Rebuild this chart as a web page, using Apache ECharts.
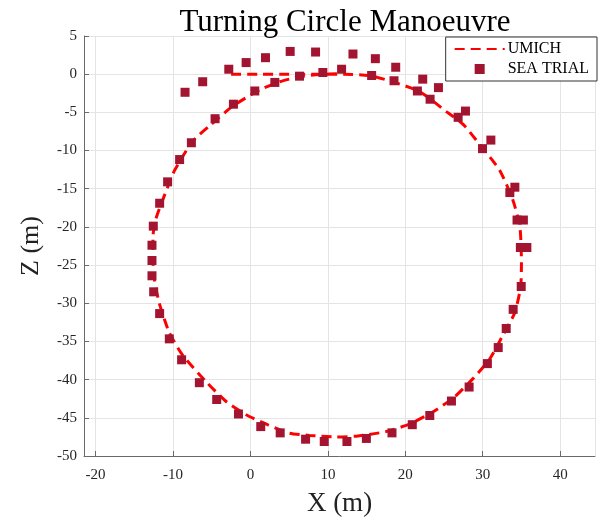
<!DOCTYPE html>
<html>
<head>
<meta charset="utf-8">
<script src="https://cdn.jsdelivr.net/npm/echarts@6/dist/echarts.min.js"></script>
<style>
html,body{margin:0;padding:0;background:#fff;}
#chart{width:602px;height:522px;}
</style>
</head>
<body>
<div id="chart"></div>
<script>
// UMICH simulated trajectory
const umichX = [-2.5, 1, 5, 9, 12, 15.4, 18.4, 21.9, 25.3, 27.5, 29.6, 32.2, 33.9, 34.8, 35.0, 34.9, 34.15, 32.6, 30.9, 28.8, 26.2, 23.6, 20.6, 17.55, 13.7, 11.1, 7.6, 5.0, 2.2, -0.56, -3.1, -5.7, -8.76, -10.5, -11.8, -12.4, -12.6, -12.6, -12.2, -10.7, -9.8, -7.45, -5.1, -2.3, 1.16, 3.75, 6.3, 8.9, 11.5];
const umichZ = [0, 0, 0, 0, 0, -0.2, -1.0, -2.3, -4.9, -6.6, -9.2, -12.6, -16.5, -20, -24.7, -27.8, -31.2, -34.2, -37.3, -39.8, -42.4, -44.2, -45.8, -46.8, -47.4, -47.5, -47.3, -47.0, -45.9, -44.6, -42.9, -40.3, -36.8, -33.8, -29.9, -26.9, -24.3, -21.3, -18.9, -14.8, -12.6, -8.76, -6.6, -4.2, -2.07, -1.0, -0.34, -0.04, 0.05];

// Sea trial measurements
const trialX = [-8.45, -6.17, -2.8, -0.56, 1.94, 5.13, 8.41, 13.24, 16.13, 18.76, 22.25, 24.28, 27.77, 31.05, 34.15, 35.25, 35.7,
  -4.57, -2.2, 0.56, 3.15, 6.34, 9.35, 11.77, 15.65, 18.54, 21.56, 23.2, 26.82, 29.97, 33.5, 34.43, 34.86, 34.97, 33.93, 33.03, 32.0, 30.6, 28.24, 25.96, 23.16, 20.9, 18.28, 14.97, 12.46, 9.53, 7.12, 3.84, 1.33, -1.55, -4.36, -6.6, -8.89, -10.48, -11.73, -12.5, -12.72, -12.72, -12.72, -12.55, -11.73, -10.7, -9.15, -7.63];
const trialZ = [-2.37, -0.99, 0.65, 1.52, 2.16, 2.98, 2.9, 2.64, 2.03, 0.91, -0.65, -1.76, -4.83, -8.63, -14.8, -19.1, -22.7,
  -5.83, -3.93, -2.2, -1.08, -0.26, 0.22, 0.65, -0.17, -0.86, -2.2, -3.28, -5.65, -9.75, -15.5, -19.1, -22.7, -27.8, -30.8, -33.3, -35.8, -37.9, -40.97, -42.8, -44.7, -45.9, -46.97, -47.7, -48.1, -48.1, -47.8, -46.97, -46.15, -44.5, -42.6, -40.4, -37.4, -34.66, -31.35, -28.5, -26.4, -24.4, -22.4, -19.9, -16.9, -14.1, -11.18, -8.98];

const titleText = 'Turning Circle Manoeuvre';
const xName = 'X (m)';
const yName = 'Z (m)';
const seriesNames = ['UMICH', 'SEA TRIAL'];

const serif = 'Liberation Serif, DejaVu Serif, serif';
const umichData = umichX.map((x, i) => [x, umichZ[i]]);
const trialData = trialX.map((x, i) => [x, trialZ[i]]);

const chart = echarts.init(document.getElementById('chart'), null, {renderer: 'canvas'});
chart.setOption({
  animation: false,
  backgroundColor: '#fff',
  title: {
    text: titleText,
    left: 340,
    top: 2,
    textAlign: 'center',
    textStyle: {fontFamily: serif, fontWeight: 'normal', fontSize: 31, color: '#000'}
  },
  grid: {left: 84, right: 7, top: 36, bottom: 61, containLabel: false},
  legend: {
    orient: 'vertical',
    right: 5,
    top: 37,
    padding: [4, 8, 4, 8],
    itemGap: 4,
    itemWidth: 50,
    itemHeight: 10,
    backgroundColor: '#fff',
    borderColor: '#333',
    borderWidth: 1,
    borderRadius: 0,
    textStyle: {fontFamily: serif, fontSize: 16, color: '#000', padding: [0, 0, 0, -2]},
    data: [
      {name: seriesNames[0], itemStyle: {opacity: 0}},
      {name: seriesNames[1], icon: 'path://M0,0L1,0L1,1L0,1Z'}
    ]
  },
  xAxis: {
    type: 'value',
    min: -21.5,
    max: 44.5,
    splitNumber: 7,
    name: xName,
    nameLocation: 'middle',
    nameGap: 34,
    nameTextStyle: {fontFamily: serif, fontSize: 27, color: '#222'},
    axisLine: {show: true, onZero: false, lineStyle: {color: '#6a6a6a', width: 1}},
    axisTick: {show: true, inside: true, length: 5, lineStyle: {color: '#6a6a6a'}},
    axisLabel: {fontFamily: serif, fontSize: 15, color: '#262626', margin: 12, showMinLabel: false, showMaxLabel: false},
    splitLine: {show: true, lineStyle: {color: '#e4e4e4', width: 1}}
  },
  yAxis: {
    type: 'value',
    min: -50,
    max: 5,
    interval: 5,
    name: yName,
    nameLocation: 'middle',
    nameGap: 40,
    nameRotate: 90,
    nameTextStyle: {fontFamily: serif, fontSize: 26, color: '#222'},
    axisLine: {show: true, onZero: false, lineStyle: {color: '#6a6a6a', width: 1}},
    axisTick: {show: true, inside: true, length: 5, lineStyle: {color: '#6a6a6a'}},
    axisLabel: {fontFamily: serif, fontSize: 15, color: '#262626', margin: 7},
    splitLine: {show: true, lineStyle: {color: '#e4e4e4', width: 1}}
  },
  series: [
    {
      name: seriesNames[0],
      type: 'line',
      data: umichData,
      symbol: 'none',
      smooth: 0.2,
      lineStyle: {color: '#ff0000', width: 3, type: [10, 6]},
      itemStyle: {color: '#ff0000'},
      z: 2
    },
    {
      name: seriesNames[1],
      type: 'scatter',
      data: trialData,
      symbol: 'rect',
      symbolSize: 9,
      itemStyle: {color: '#a2142f', opacity: 1},
      z: 3
    }
  ]
});
</script>
</body>
</html>
